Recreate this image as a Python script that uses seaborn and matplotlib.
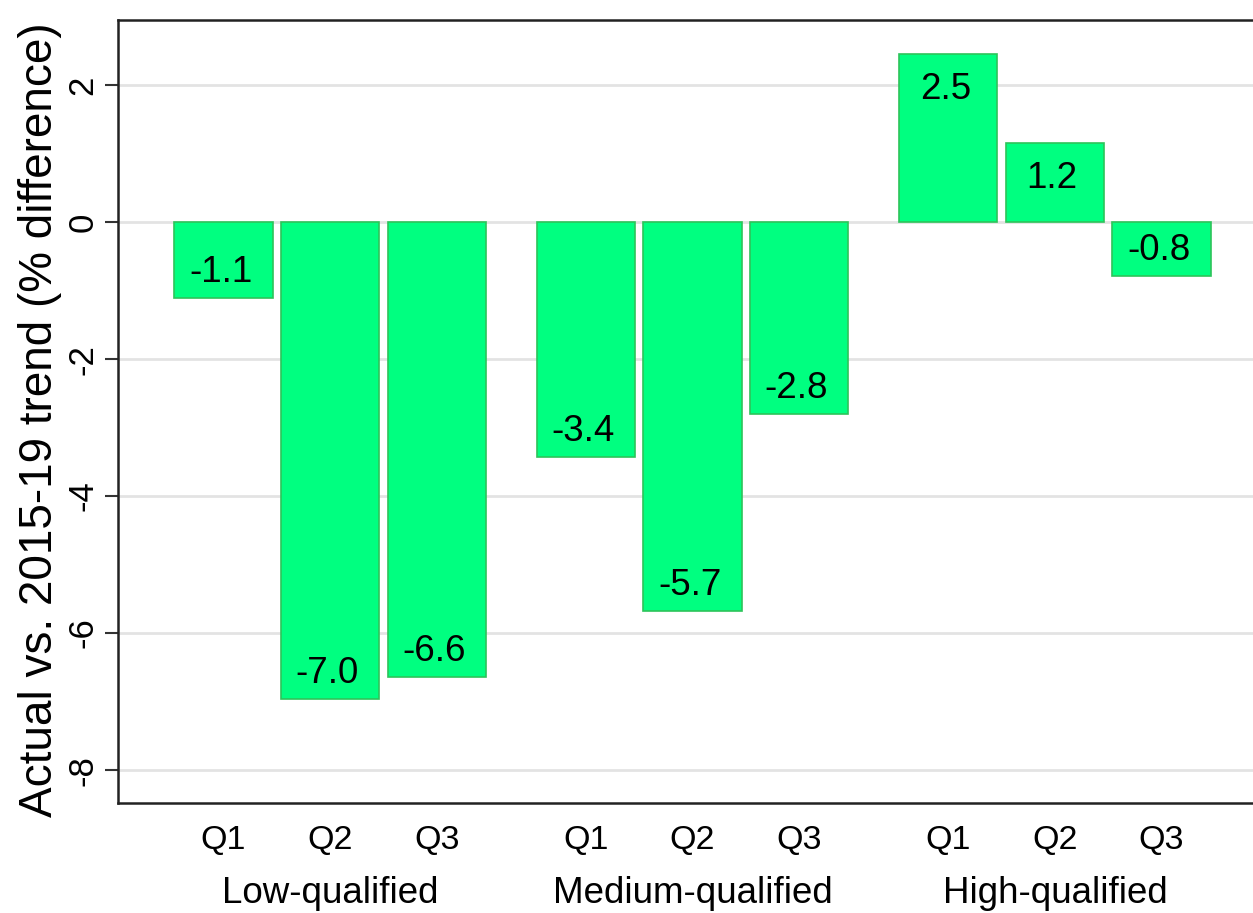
import matplotlib
matplotlib.use("Agg")
import matplotlib.pyplot as plt
import seaborn as sns
import pandas as pd

groups = ["Low-qualified", "Medium-qualified", "High-qualified"]
quarters = ["Q1", "Q2", "Q3"]
low_vals = [-1.11, -6.96, -6.64]
medium_vals = [-3.43, -5.68, -2.80]
high_vals = [2.46, 1.16, -0.79]
yticks = [-8, -6, -4, -2, 0, 2]
ylabel = "Actual vs. 2015-19 trend (% difference)"

sns.set_theme(style="white")
plt.rcParams["font.family"] = ["Liberation Sans", "DejaVu Sans"]

rows = []
group_gap = 3.4
for gi, (g, vals) in enumerate(zip(groups, [low_vals, medium_vals, high_vals])):
    for qi, (q, v) in enumerate(zip(quarters, vals)):
        rows.append({"group": g, "quarter": q, "pos": gi * group_gap + qi, "value": v})
df = pd.DataFrame(rows)

fig = plt.figure(figsize=(12.53, 9.13), dpi=100)
ax = fig.add_axes([118 / 1253, 110 / 913, 1 - 118 / 1253 + 0.001, 783 / 913])

sns.barplot(data=df, x="pos", y="value", native_scale=True, width=0.92,
            color="#00FF80", edgecolor="#2DC45A", linewidth=1.2,
            saturation=1, ax=ax, zorder=3)

ax.set_xlim(-0.99, 9.67)
ax.set_ylim(-8.48, 2.95)
ax.set_yticks(yticks)
ax.set_yticklabels([str(t) for t in yticks], rotation=90, va="center")
ax.yaxis.grid(True, color="#E3E3E3", linewidth=2, zorder=0)
ax.set_axisbelow(True)
ax.tick_params(axis="y", length=9.5, width=1.5, color="#333333", pad=4, left=True,
               labelsize=25, labelcolor="black")

ax.set_xticks(df["pos"])
ax.set_xticklabels(df["quarter"])
ax.tick_params(axis="x", length=0, pad=16, labelsize=24.5, labelcolor="black")
ax.set_xlabel("")

for s in ["left", "bottom", "top"]:
    ax.spines[s].set_visible(True)
    ax.spines[s].set_color("#222222")
    ax.spines[s].set_linewidth(1.8)
ax.spines["right"].set_visible(False)

ax.set_ylabel(ylabel, fontsize=33, color="black")
ax.yaxis.label.set_va("center")
ax.yaxis.set_label_coords(-78 / 1135, 0.49)

for _, r in df.iterrows():
    off = -33 if r["value"] > 0 else 11.5
    ax.annotate(f"{r['value']:.1f}", xy=(r["pos"], r["value"]), xytext=(-2, off),
                textcoords="offset points", ha="center", va="baseline",
                fontsize=26.5, color="black", zorder=5)

for gi, g in enumerate(groups):
    ax.annotate(g, xy=(gi * group_gap + 1, 0), xycoords=("data", "axes fraction"),
                xytext=(0, -65), textcoords="offset points", ha="center", va="center",
                fontsize=26.5, color="black")

fig.savefig("out.png", dpi=100)
